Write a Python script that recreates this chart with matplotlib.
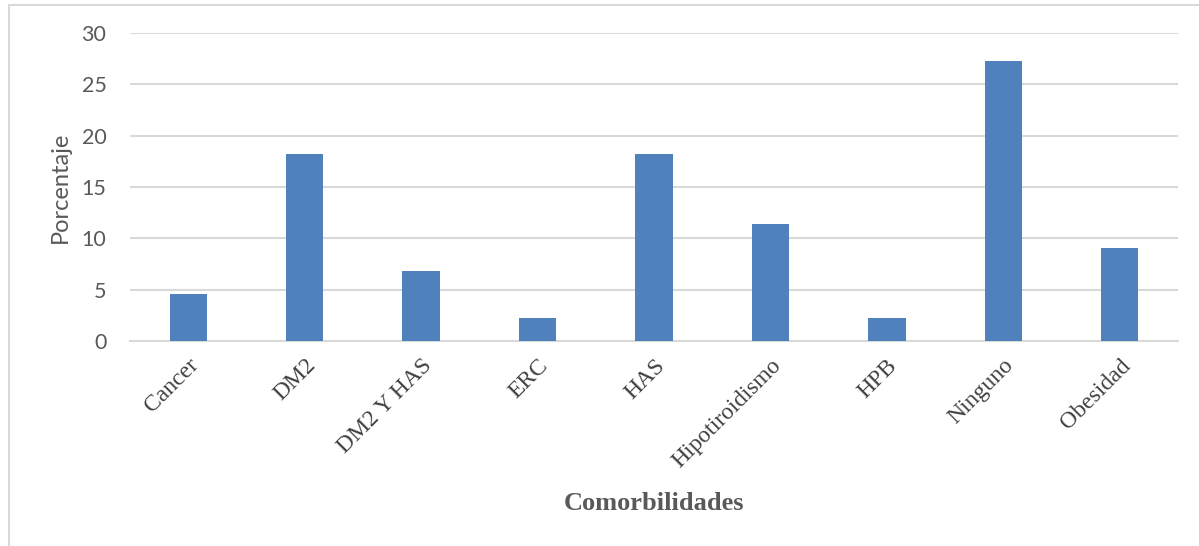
import matplotlib
matplotlib.use("Agg")
import matplotlib.pyplot as plt
from matplotlib.patches import Rectangle

categories = ["Cancer", "DM2", "DM2 Y HAS", "ERC", "HAS", "Hipotiroidismo", "HPB", "Ninguno", "Obesidad"]
values = [4.55, 18.18, 6.82, 2.27, 18.18, 11.36, 2.27, 27.27, 9.09]
yticks = [0, 5, 10, 15, 20, 25, 30]

W, H = 1199, 546
fig = plt.figure(figsize=(W / 100, H / 100), dpi=100)
ax = fig.add_axes([130 / W, 1 - 341 / H, (1178 - 130) / W, (341 - 33) / H])

x = list(range(len(categories)))
ax.bar(x, values, width=0.32, color="#4f81bd", zorder=3)
ax.set_xlim(-0.5, len(categories) - 0.5)
ax.set_ylim(0, 30)
ax.set_yticks(yticks)
ax.set_yticklabels([str(t) for t in yticks], fontfamily="Lato", fontsize=15.5, color="#595959")
ax.grid(axis="y", color="#d9d9d9", linewidth=1.5, zorder=0)
for s in ["top", "right", "left"]:
    ax.spines[s].set_visible(False)
ax.spines["bottom"].set_color("#d9d9d9")
ax.spines["bottom"].set_linewidth(1.5)
ax.tick_params(axis="both", length=0)
ax.tick_params(axis="y", pad=17)
ax.set_xticks(x)
ax.set_xticklabels(categories, rotation=45, ha="right", va="top", rotation_mode="anchor",
                   fontfamily="Liberation Serif", fontsize=17, color="#404040")
ax.tick_params(axis="x", pad=10)
ax.set_ylabel("Porcentaje", fontfamily="Lato", fontsize=17, color="#595959", labelpad=7.5)
fig.text(654 / W, 1 - 503 / H, "Comorbilidades", ha="center", va="center",
         fontfamily="Liberation Serif", fontweight="bold", fontsize=19, color="#595959")

fig.patches.append(Rectangle((9 / W, -0.1), 1.2, 1 - 5 / H + 0.1, transform=fig.transFigure,
                             fill=False, edgecolor="#d9d9d9", linewidth=1.5))

fig.savefig("out.png", dpi=100, facecolor="white")
